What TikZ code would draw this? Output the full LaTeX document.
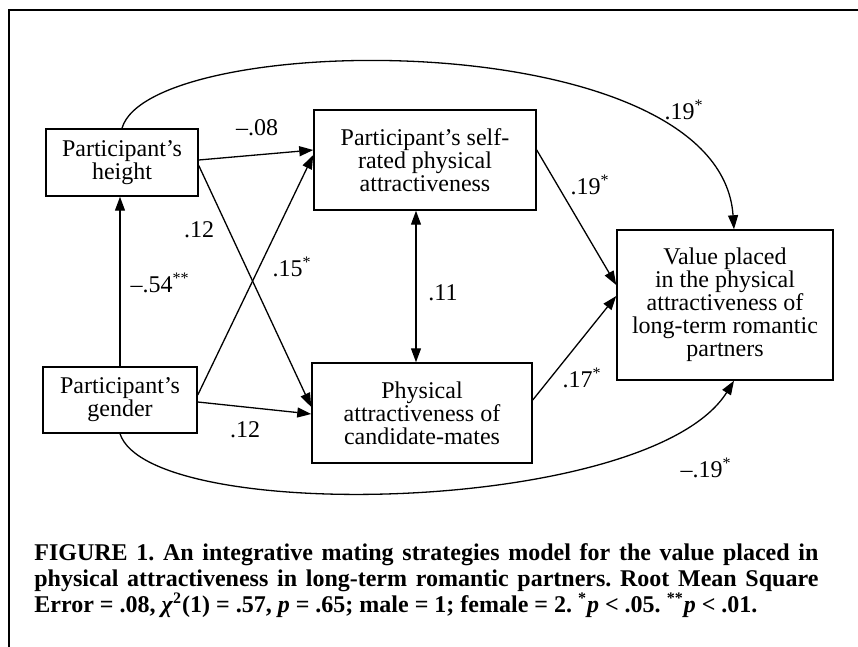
\documentclass[tikz,border=0pt]{standalone}
\usepackage{fontspec}
\setmainfont{Liberation Serif}
\usepackage{tikz}
\usetikzlibrary{positioning, calc, arrows.meta}

\tikzset{
	>={Triangle[length=7pt, width=5pt]},
	var/.style={draw, line width=0.75pt, align=center, inner sep=0pt, font=\fontsize{12}{11.5}\selectfont},
	link/.style={line width=0.65pt, ->},
	coef/.style={inner sep=1pt, font=\fontsize{12}{12}\selectfont}
}

\begin{document}
\begin{tikzpicture}[x=0.5pt, y=-0.5pt]
	\useasboundingbox (0,0) rectangle (858,647);
	
	%//frame
	\draw[line width=0.8pt] (858,10) -- (9,10) -- (9,647);
	
	\node[var, minimum width=76pt, minimum height=33.5pt] (height) at (122,162.5) {Participant's\\height};
	\node[var, minimum width=77pt, minimum height=33pt] (gender) at (120,400) {Participant's\\gender};
	\node[var, minimum width=111pt, minimum height=50pt] (self) at (425,160) {Participant's self-\\rated physical\\attractiveness};
	\node[var, minimum width=110pt, minimum height=50pt] (phys) at (422,413) {Physical\\attractiveness of\\candidate-mates};
	\node[var, minimum width=108pt, minimum height=75pt] (value) at (725,305) {Value placed\\in the physical\\attractiveness of\\long-term romantic\\partners};
	
	%//paths
	\draw[link] ($(height.east)+(0,-2.5)$) -- ($(self.west)+(0,-10)$);
	\draw[link] ($(height.east)+(0,3)$) -- ($(phys.west)+(0,-6)$);
	\draw[link] ($(gender.east)+(0,-5)$) -- ($(self.west)+(0,-5)$);
	\draw[link] ($(gender.east)+(0,2)$) -- ($(phys.west)+(0,1)$);
	\draw[link] (gender.north) -- (gender.north |- height.south);
	\coordinate (sp) at ($(self.south)+(-9,0)$);
	\draw[link, <->] (sp) -- (sp |- phys.north);
	\draw[link] ($(self.east)+(0,-10)$) -- ($(value.west)+(0,-20)$);
	\draw[link] ($(phys.east)+(0,-13)$) -- ($(value.west)+(0,-9)$);
	\draw[link] (height.north) .. controls (150,30) and (720,22) .. ($(value.north)+(9,0)$);
	\draw[link] (gender.south) .. controls (150,525) and (650,515) .. ($(value.south)+(9,0)$);
	
	%//coefficients
	\node[coef] (c1) at (257,128) {--.08};
	\node[coef] (c2) at (199,230) {.12};
	\node[coef] (c3) at (292,267) {.15\textsuperscript{*}};
	\node[coef] (c4) at (160,283) {--.54\textsuperscript{**}};
	\node[coef] (c5) at (245,430) {.12};
	\node[coef] (c6) at (443,293) {.11};
	\node[coef] (c7) at (590,185) {.19\textsuperscript{*}};
	\node[coef] (c8) at (582,378) {.17\textsuperscript{*}};
	\node[coef] (c9) at (684,110) {.19\textsuperscript{*}};
	\node[coef] (c10) at (706,468) {--.19\textsuperscript{*}};
	
	\node[anchor=north west, inner sep=0pt, text width=392pt, align=justify, font=\bfseries\fontsize{12}{13}\selectfont] (caption) at (34,543) {\frenchspacing\fontsize{12}{13}\selectfont FIGURE 1. An integrative mating strategies model for the value placed in\linebreak physical attractiveness in long-term romantic partners. Root Mean Square\linebreak Error = .08, \textit{χ}\textsuperscript{2}(1) = .57, \textit{p} = .65; male = 1; female = 2. \textsuperscript{*}\textit{p} < .05. \textsuperscript{**}\textit{p} < .01.\par};
\end{tikzpicture}
\end{document}
